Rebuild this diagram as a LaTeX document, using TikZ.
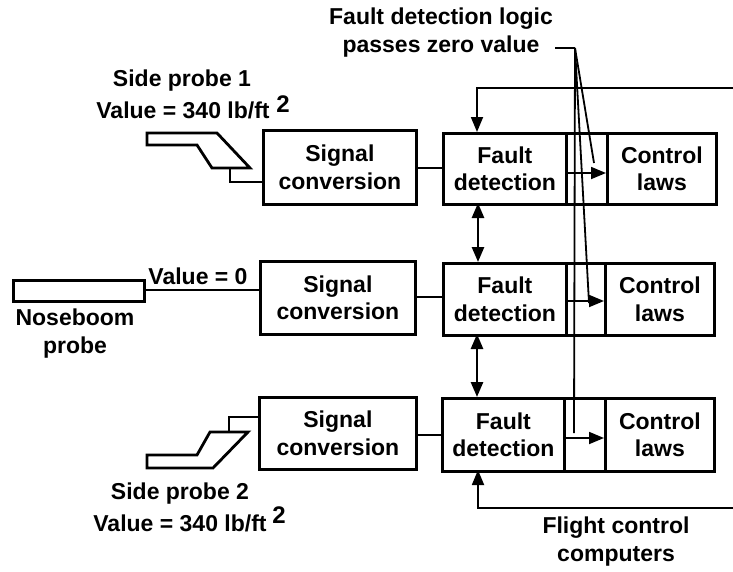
\documentclass[tikz,border=0pt]{standalone}
\usepackage{fontspec}
\setmainfont{Liberation Sans}
\usetikzlibrary{arrows.meta}
\tikzset{
  x=1pt,y=-1pt,
  box/.style={draw=black,line width=2.8pt,fill=white,inner sep=0pt,font=\fontsize{23}{27.5}\selectfont\bfseries,align=center,text=black},
  lab/.style={inner sep=0pt,font=\fontsize{23}{28}\selectfont\bfseries,align=center},
  supr/.style={inner sep=0pt,font=\fontsize{24}{26}\selectfont\bfseries},
  wire/.style={line width=1.8pt},
  probe/.style={line width=2.8pt,line join=miter,fill=white},
  tip/.style={-{Triangle[length=15pt,width=12pt]}},
  dtip/.style={{Triangle[length=15pt,width=12pt]}-{Triangle[length=15pt,width=12pt]},line width=2.6pt},
}
\begin{document}
\begin{tikzpicture}
\useasboundingbox (0,0) rectangle (733,571);
% signal boxes
\node[box,minimum width=153,minimum height=74,anchor=north west] (s1) at (262,129) {Signal\\conversion};
\node[box,minimum width=155,minimum height=73,anchor=north west] (s2) at (259,260) {Signal\\conversion};
\node[box,minimum width=157,minimum height=72,anchor=north west] (s3) at (258,396) {Signal\\conversion};
% fault detection
\node[box,minimum width=123,minimum height=71,anchor=north west] (f1) at (442,132) {Fault\\detection};
\node[box,minimum width=123,minimum height=72,anchor=north west] (f2) at (442,262) {Fault\\detection};
\node[box,minimum width=122,minimum height=73,anchor=north west] (f3) at (441,397) {Fault\\detection};
% middle cells
\node[box,minimum width=41,minimum height=71,anchor=north west] (m1) at (565,132) {};
\node[box,minimum width=39,minimum height=72,anchor=north west] (m2) at (565,262) {};
\node[box,minimum width=41,minimum height=73,anchor=north west] (m3) at (563,397) {};
% control laws
\node[box,minimum width=109,minimum height=71,anchor=north west] (c1) at (606,132) {Control\\laws};
\node[box,minimum width=109,minimum height=72,anchor=north west] (c2) at (604,262) {Control\\laws};
\node[box,minimum width=109,minimum height=73,anchor=north west] (c3) at (604,397) {Control\\laws};
% probes
\draw[probe] (147,133) -- (217,133) -- (250,168) -- (212,168) -- (197,145) -- (147,145) -- cycle;
\draw[probe] (147,455) -- (197,455) -- (210,432) -- (248,432) -- (213,468) -- (147,468) -- cycle;
\node[draw=black,line width=2.8pt,inner sep=0pt,minimum width=131,minimum height=21,anchor=north west] (nose) at (12,279) {};
\coordinate (p1) at (230,168);
\coordinate (p3) at (229,432);
% probe connectors
\draw[wire] (p1) -- (230,182) -- (s1.west |- 0,182);
\draw[wire] (p3) -- (229,417) -- (s3.west |- 0,417);
\draw[wire] (nose.east |- 0,290) -- (s2.west |- 0,290);
% signal to fault
\draw[wire] (s1.east |- 0,168) -- (f1.west |- 0,168);
\draw[wire] (s2.east |- 0,297) -- (f2.west |- 0,297);
\draw[wire] (s3.east |- 0,435) -- (f3.west |- 0,435);
% cell arrows
\draw[wire,tip] (m1.west |- 0,173) -- (c1.west |- 0,173);
\draw[wire,tip] (m2.west |- 0,301) -- (c2.west |- 0,301);
\draw[wire,tip] (m3.west |- 0,438) -- (c3.west |- 0,438);
% feedback
\coordinate (r1) at (733,88);
\coordinate (r3) at (733,508);
\draw[wire,tip] (r1) -- (477,88) -- (477,132);
\draw[wire,tip] (r3) -- (478,508) -- (478,470);
% double arrows
\draw[dtip] (478,203) -- (478,262);
\draw[dtip] (477,334) -- (477,397);
% fault logic lines
\node[lab,anchor=center] (logic) at (441,33) {Fault detection logic\\passes zero value};
\coordinate (lead) at (555,48);
\coordinate (hub) at (575,48);
\draw[wire] (lead) -- (hub);
\draw[wire] (hub) -- (574,433);
\draw[wire] (hub) -- (594,163);
\draw[wire] (hub) -- (589,303);
% labels
\node[lab] (sp1) at (182,81) {Side probe 1};
\node[lab] (v1) at (183,110) {Value = 340 lb/ft};
\node[supr] (e1) at (283,104) {2};
\node[lab] (v0) at (198,276) {Value = 0};
\node[lab] (nb) at (75,334) {Noseboom\\probe};
\node[lab] (sp2) at (180,494) {Side probe 2};
\node[lab] (v2) at (180,523) {Value = 340 lb/ft};
\node[supr] (e2) at (279,515) {2};
\node[lab] (fc) at (616,542) {Flight control\\computers};
\end{tikzpicture}
\end{document}
